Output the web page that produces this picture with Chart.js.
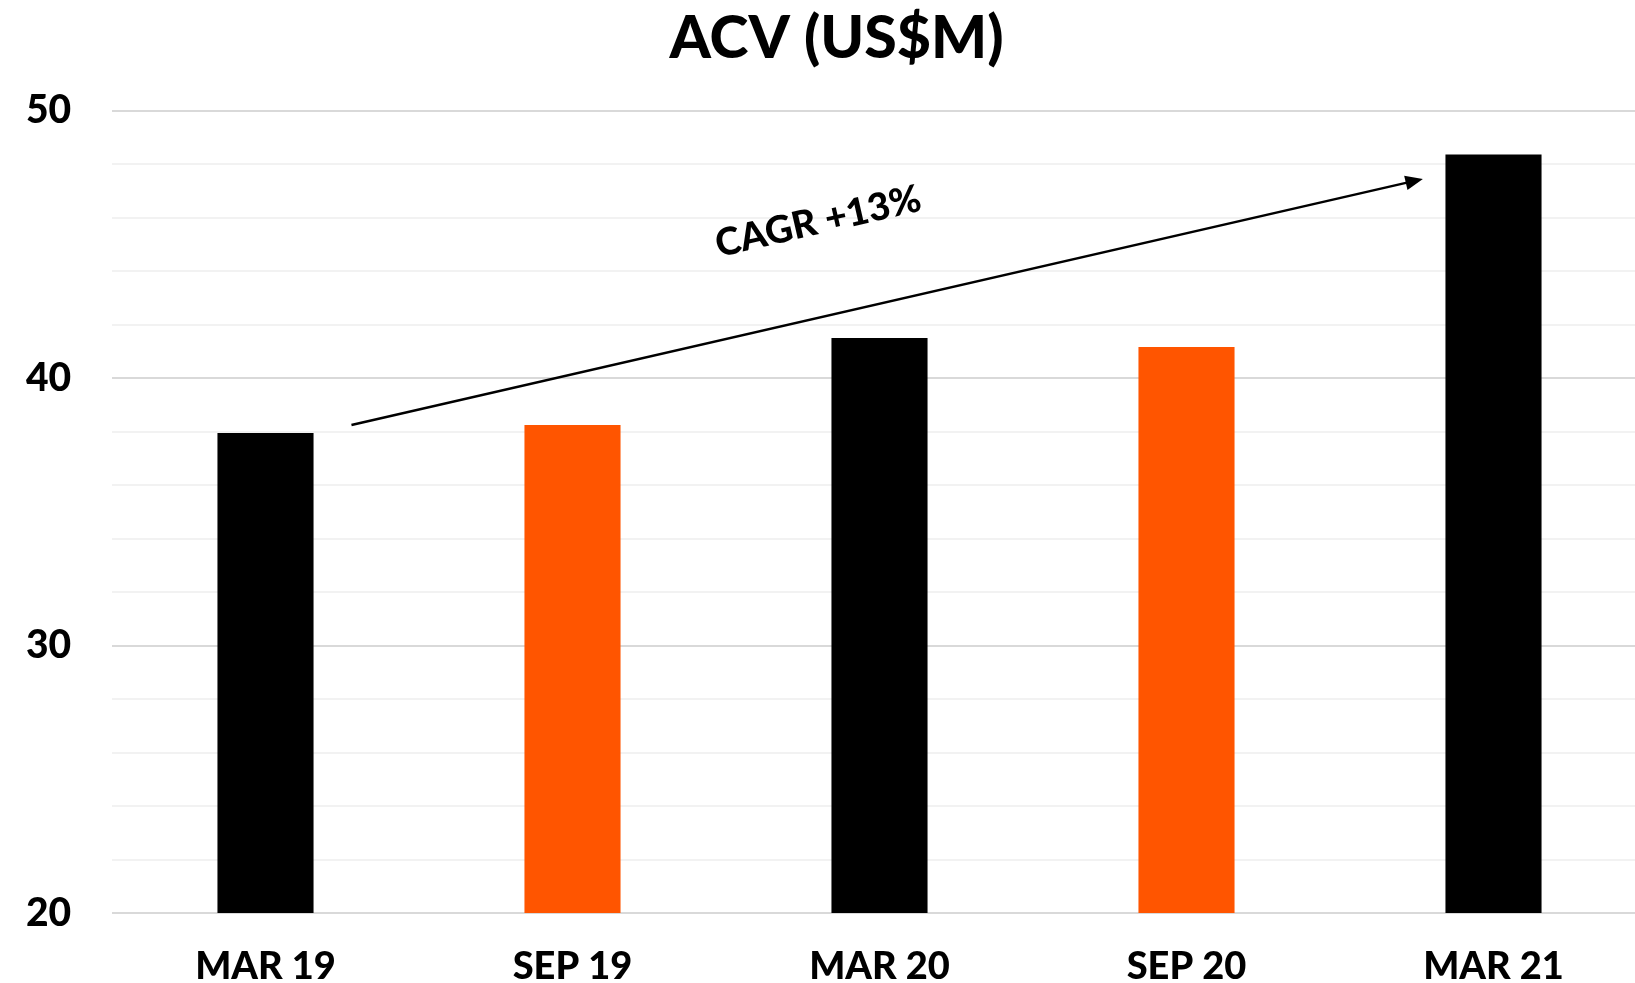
<!DOCTYPE html>
<html>
<head>
<meta charset="utf-8">
<script src="https://cdn.jsdelivr.net/npm/chart.js@4/dist/chart.umd.min.js"></script>
<style>
    html, body { margin: 0; padding: 0; background: #fff; overflow: hidden; }
    #wrap { position: relative; width: 1647px; height: 983px; }
</style>
</head>
<body>
<div id="wrap"><canvas id="acvChart"></canvas></div>
<script>
// data
const periods = ['MAR 19', 'SEP 19', 'MAR 20', 'SEP 20', 'MAR 21'];
const acvValues = [37.95, 38.25, 41.5, 41.17, 48.37];
const barColors = ['#000000', '#FF5500', '#000000', '#FF5500', '#000000'];
const yTicks = [20, 30, 40, 50];

// CAGR arrow, in category index / value units
const cagrLabel = 'CAGR +13%';
const arrowFrom = [0.28, 38.25];
const arrowTo = [3.77, 47.45];
const cagrTextAt = [1.8, 45.85];

const FONT = "Lato, 'Open Sans', sans-serif";

// draws the growth arrow and its label on top of the bars
const cagrArrow = {
    id: 'cagrArrow',
    afterDatasetsDraw(chart) {
        const { ctx, scales: { x, y } } = chart;
        const x1 = x.getPixelForValue(arrowFrom[0]);
        const y1 = y.getPixelForValue(arrowFrom[1]);
        const x2 = x.getPixelForValue(arrowTo[0]);
        const y2 = y.getPixelForValue(arrowTo[1]);
        const ang = Math.atan2(y2 - y1, x2 - x1);
        const head = 19;

        ctx.save();
        ctx.strokeStyle = '#000';
        ctx.fillStyle = '#000';
        ctx.lineWidth = 2.5;
        ctx.beginPath();
        ctx.moveTo(x1, y1);
        ctx.lineTo(x2 - Math.cos(ang) * head * 0.8, y2 - Math.sin(ang) * head * 0.8);
        ctx.stroke();

        ctx.beginPath();
        ctx.moveTo(x2, y2);
        ctx.lineTo(x2 - head * Math.cos(ang - 0.4), y2 - head * Math.sin(ang - 0.4));
        ctx.lineTo(x2 - head * Math.cos(ang + 0.4), y2 - head * Math.sin(ang + 0.4));
        ctx.closePath();
        ctx.fill();

        // label, tilted like the arrow
        const tx = x.getPixelForValue(cagrTextAt[0]);
        const ty = y.getPixelForValue(cagrTextAt[1]);
        ctx.translate(tx, ty);
        ctx.rotate(ang);
        ctx.font = `900 38px ${FONT}`;
        ctx.textAlign = 'center';
        ctx.textBaseline = 'middle';
        ctx.fillText(cagrLabel, 0, 0);
        ctx.restore();
    }
};

const config = {
    type: 'bar',
    data: {
        labels: periods,
        datasets: [
            {
                label: 'ACV',
                data: acvValues,
                backgroundColor: barColors,
                borderWidth: 0,
                barPercentage: 0.313,
                categoryPercentage: 1
            }
        ]
    },
    options: {
        responsive: true,
        maintainAspectRatio: false,
        animation: false,
        layout: { padding: { left: 26, right: 0, top: 0, bottom: 0 } },
        plugins: {
            legend: { display: false },
            tooltip: { enabled: false },
            title: {
                display: true,
                text: 'ACV (US$M)',
                color: '#000',
                font: { family: FONT, size: 59, weight: '900' },
                padding: { top: 4, bottom: 36 }
            }
        },
        scales: {
            x: {
                grid: { display: false },
                border: { display: false },
                ticks: {
                    color: '#000',
                    font: { family: FONT, size: 38, weight: '900' },
                    padding: 23,
                    maxRotation: 0
                },
                afterFit(scale) { scale.height = 70; }
            },
            y: {
                min: 20,
                max: 50,
                border: { display: false },
                grid: {
                    drawTicks: false,
                    lineWidth: 2,
                    // darker lines at the labelled values, faint ones in between
                    color: (c) => yTicks.includes(c.tick.value) ? '#d9d9d9' : '#f2f2f2'
                },
                ticks: {
                    stepSize: 2,
                    color: '#000',
                    crossAlign: 'far',
                    padding: 0,
                    font: { family: FONT, size: 39, weight: '900' },
                    callback: (v) => yTicks.includes(v) ? v : ''
                },
                afterFit(scale) { scale.width = 86; }
            }
        }
    },
    plugins: [cagrArrow]
};

new Chart(document.getElementById('acvChart'), config);
</script>
</body>
</html>
